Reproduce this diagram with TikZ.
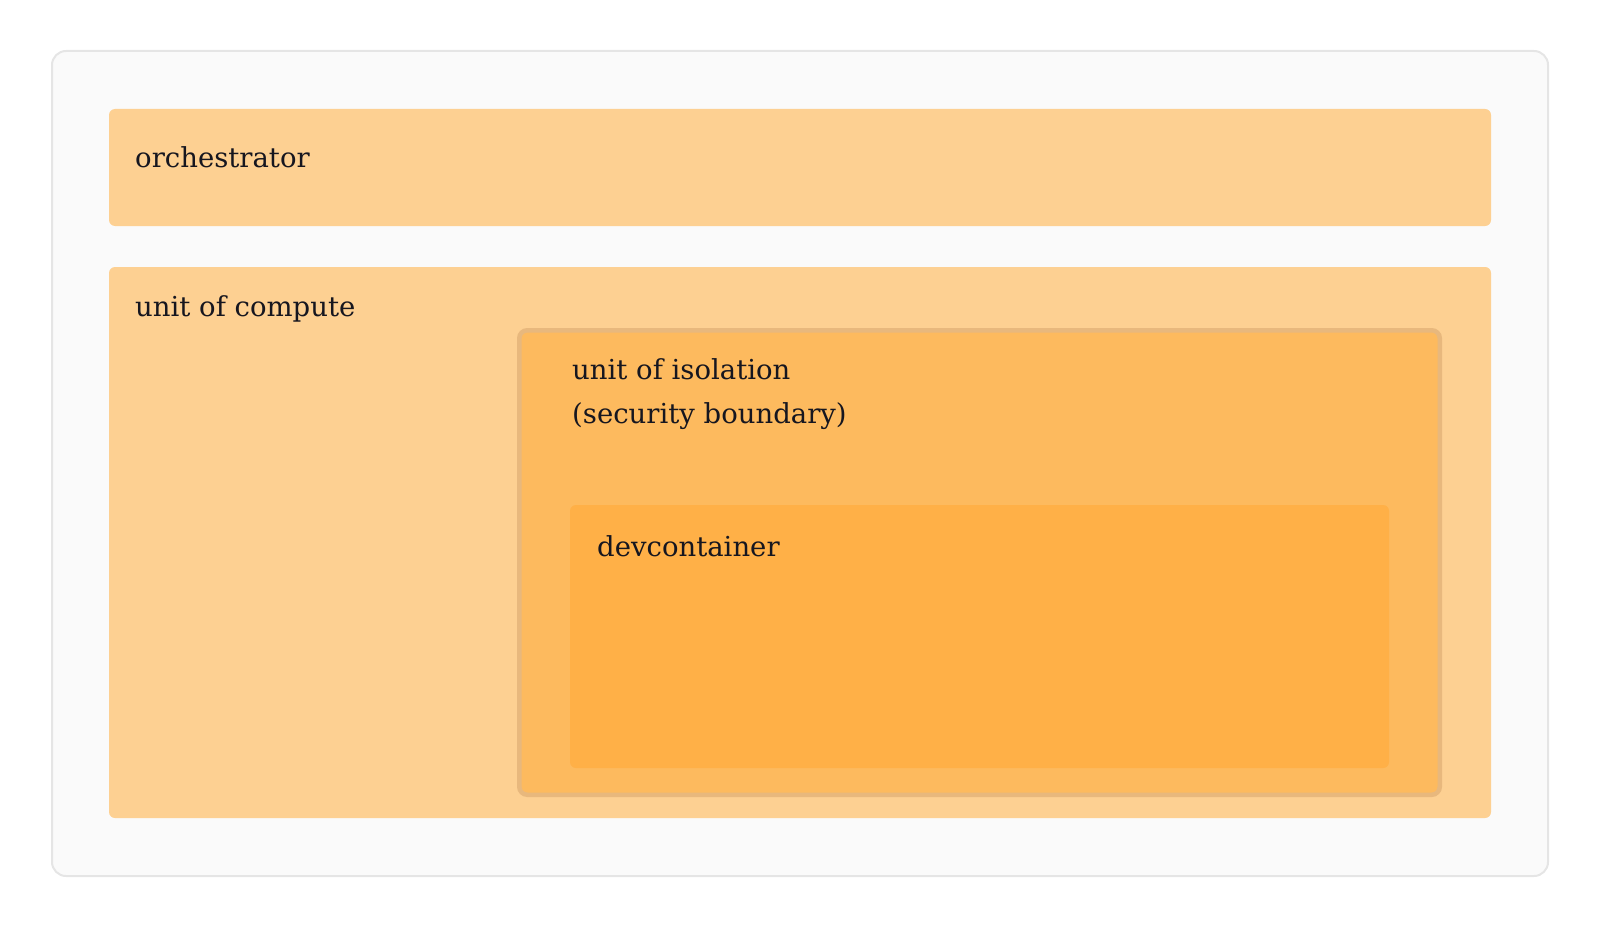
\documentclass[tikz,border=0pt]{standalone}
\usepackage{fontspec}
\setmainfont{DejaVu Serif}
\usepackage{xcolor}
\usepackage{tikz}
\usetikzlibrary{
    calc,
    positioning,
}
\definecolor{frameFill}{HTML}{FAFAFA}
\definecolor{frameLine}{HTML}{E5E5E5}
\definecolor{paleOrange}{HTML}{FDD092}
\definecolor{midOrange}{HTML}{FDBA5E}
\definecolor{midLine}{HTML}{E8B87D}
\definecolor{deepOrange}{HTML}{FFB047}
\definecolor{inkText}{HTML}{16161F}

\begin{document}
\begin{tikzpicture}[x=1pt,y=-1pt]

    \tikzstyle{commonBox}=[rectangle, anchor=north west, inner sep=0pt, outer sep=0pt]
    \tikzstyle{frameBox}=[commonBox, fill=frameFill, draw=frameLine, line width=2pt, rounded corners=14pt]
    \tikzstyle{layerBox}=[commonBox, fill=paleOrange, rounded corners=6pt]
    \tikzstyle{isolationBox}=[commonBox, fill=midOrange, draw=midLine, line width=4.5pt, rounded corners=8pt]
    \tikzstyle{containerBox}=[commonBox, fill=deepOrange, rounded corners=6pt]
    \tikzstyle{boxLabel}=[anchor=base west, inner sep=0pt, align=left, text=inkText, font=\fontsize{27.5}{44}\selectfont]

    % Canvas
    \useasboundingbox (0,0) rectangle (1600,928);

    \begin{scope}
        % Boxes
        \node at (52,51) [frameBox, minimum width=1496pt, minimum height=825pt] (frame) {};
        \node at (109,109) [layerBox, minimum width=1382pt, minimum height=117pt] (orch) {};
        \node at (109,267) [layerBox, minimum width=1382pt, minimum height=551pt] (compute) {};
        \node at (519.25,330.25) [isolationBox, minimum width=920.5pt, minimum height=464.5pt] (isolation) {};
        \node at (570,505) [containerBox, minimum width=819pt, minimum height=263pt] (container) {};

        % Labels (base of a two line label is its last line)
        \node at ($(orch.north west)+(26,59)$) [boxLabel] (orchText) {orchestrator};
        \node at ($(compute.north west)+(26,49)$) [boxLabel] (computeText) {unit of compute};
        \node at ($(container.north west)+(2,-82)$) [boxLabel] (isolationText) {unit of isolation\\(security boundary)};
        \node at ($(container.north west)+(27,51)$) [boxLabel] (containerText) {devcontainer};
    \end{scope}

\end{tikzpicture}
\end{document}
